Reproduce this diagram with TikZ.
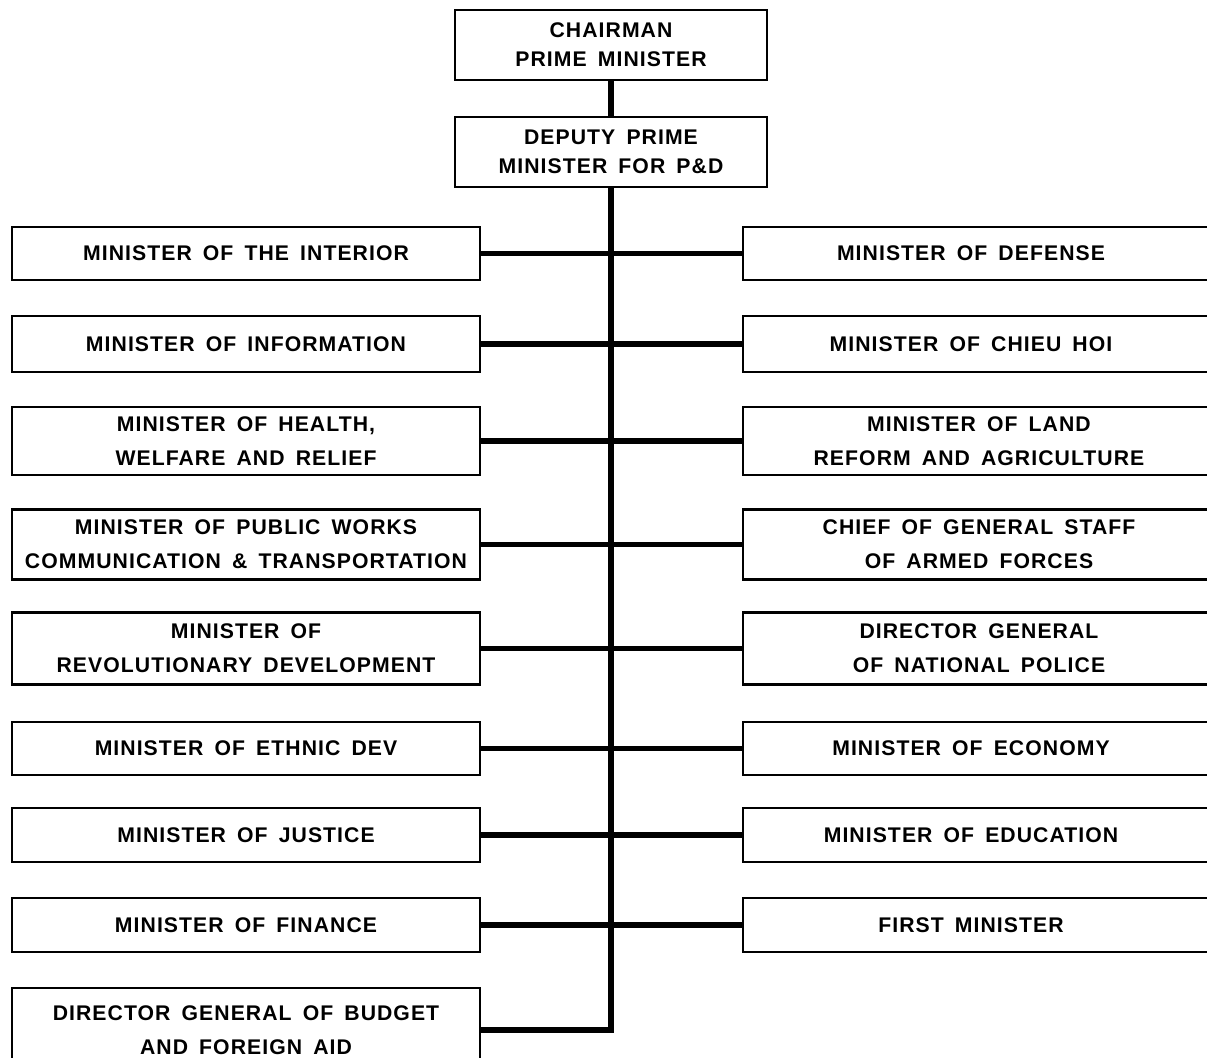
\documentclass[tikz,border=0pt]{standalone}
\usepackage{fontspec}
\setmainfont{Liberation Sans}[WordSpace=1.6,LetterSpace=5]
\begin{document}
\begin{tikzpicture}[x=0.5pt,y=-0.5pt,
  office/.style={draw,line width=1.4pt,inner sep=0pt,align=center,
    font=\fontsize{10.6}{17}\selectfont\bfseries},
  lbox/.style={office,minimum width=234pt},
  rbox/.style={office,minimum width=236pt},
  topbox/.style={office,minimum width=156pt,minimum height=35pt,
    font=\fontsize{10.6}{14.5}\selectfont\bfseries},
  conn/.style={line width=2.7pt}]
\useasboundingbox (0,0) rectangle (1207,1058);

% top of the chain
\node[topbox] (chair) at (611,45) {CHAIRMAN\\PRIME MINISTER};
\node[topbox] (dep) at (611,152) {DEPUTY PRIME\\MINISTER FOR P\&D};

% left column: centre x 246, width 468
\node[lbox,minimum height=26.5pt] (L1) at (246,253.5) {MINISTER OF THE INTERIOR};
\node[lbox,minimum height=28pt] (L2) at (246,344) {MINISTER OF INFORMATION};
\node[lbox,minimum height=34pt] (L3) at (246,441) {MINISTER OF HEALTH,\\WELFARE AND RELIEF};
\node[lbox,minimum height=35pt] (L4) at (246,544.5) {MINISTER OF PUBLIC WORKS\\COMMUNICATION \& TRANSPORTATION};
\node[lbox,minimum height=36pt] (L5) at (246,648.5) {MINISTER OF\\REVOLUTIONARY DEVELOPMENT};
\node[lbox,minimum height=26.5pt] (L6) at (246,748.5) {MINISTER OF ETHNIC DEV};
\node[lbox,minimum height=27pt] (L7) at (246,835) {MINISTER OF JUSTICE};
\node[lbox,minimum height=27pt] (L8) at (246,925) {MINISTER OF FINANCE};
\node[lbox,minimum height=42pt] (L9) at (246,1030) {DIRECTOR GENERAL OF BUDGET\\AND FOREIGN AID};

% right column: runs past the right edge
\node[rbox,minimum height=26.5pt] (R1) at (979,253.5) {\hspace*{-8pt}MINISTER OF DEFENSE};
\node[rbox,minimum height=28pt] (R2) at (979,344) {\hspace*{-8pt}MINISTER OF CHIEU HOI};
\node[rbox,minimum height=34pt] (R3) at (979,441) {MINISTER OF LAND\\REFORM AND AGRICULTURE};
\node[rbox,minimum height=35pt] (R4) at (979,544.5) {CHIEF OF GENERAL STAFF\\OF ARMED FORCES};
\node[rbox,minimum height=36pt] (R5) at (979,648.5) {DIRECTOR GENERAL\\OF NATIONAL POLICE};
\node[rbox,minimum height=26.5pt] (R6) at (979,748.5) {\hspace*{-8pt}MINISTER OF ECONOMY};
\node[rbox,minimum height=27pt] (R7) at (979,835) {\hspace*{-8pt}MINISTER OF EDUCATION};
\node[rbox,minimum height=27pt] (R8) at (979,925) {\hspace*{-8pt}FIRST MINISTER};

% trunk
\draw[conn] (chair.south) -- (dep.north);
\draw[conn] (dep.south) |- (L9.east);

% branches
\foreach \i in {1,...,8}
  \draw[conn] (L\i.east) -- (R\i.west);
\end{tikzpicture}
\end{document}
